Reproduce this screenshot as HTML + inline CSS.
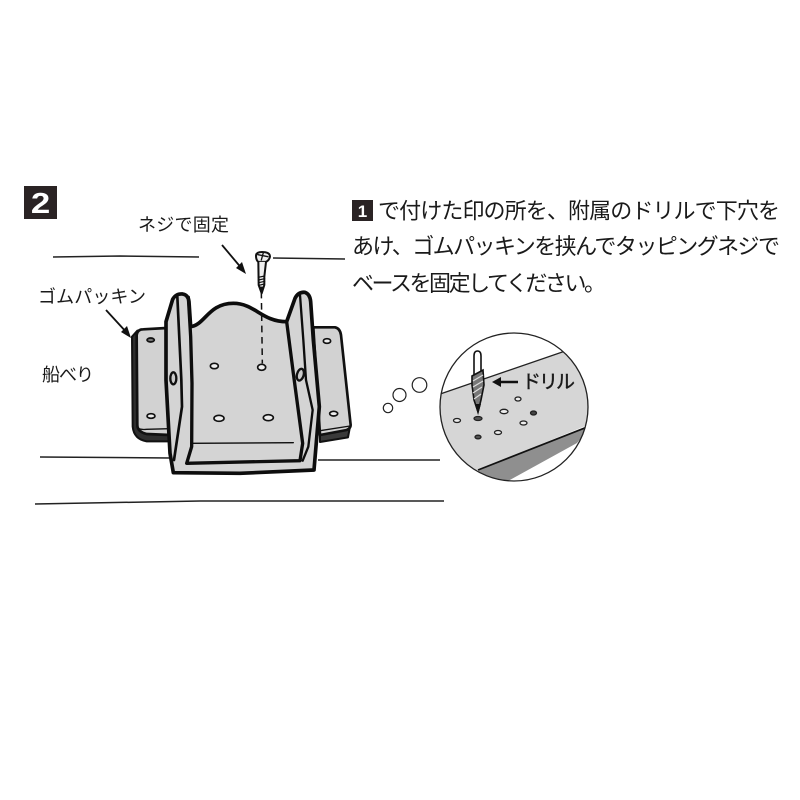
<!DOCTYPE html>
<html lang="ja"><head><meta charset="utf-8"><style>
html,body{margin:0;padding:0;background:#fff}
svg{display:block}
text{font-family:"Liberation Sans","Noto Sans CJK JP",sans-serif;fill:#1a1a1a}
</style></head><body>
<svg width="800" height="800" viewBox="0 0 800 800" xmlns="http://www.w3.org/2000/svg">
<rect width="800" height="800" fill="#fff"/>
<!-- number badge -->
<rect x="24" y="186" width="33" height="33" fill="#2a2324"/>
<text transform="translate(40.5 213) scale(1.2 1)" font-size="29" font-weight="bold" text-anchor="middle" style="fill:#fff">2</text>
<!-- labels -->
<text x="138" y="231" font-size="18" textLength="91" lengthAdjust="spacing">ネジで固定</text>
<text x="38" y="303" font-size="18" textLength="108" lengthAdjust="spacing">ゴムパッキン</text>
<text x="42" y="381" font-size="18" textLength="52" lengthAdjust="spacing">船べり</text>
<!-- right text -->
<rect x="352" y="200" width="21" height="21" fill="#2a2324"/>
<text x="362.5" y="217" font-size="17" font-weight="bold" text-anchor="middle" style="fill:#fff">1</text>
<text x="378" y="218.500" font-size="22" textLength="402" lengthAdjust="spacing">で付けた印の所を、附属のドリルで下穴を</text>
<text x="352" y="254" font-size="22" textLength="428" lengthAdjust="spacing">あけ、ゴムパッキンを挟んでタッピングネジで</text>
<text x="352" y="291" font-size="22" textLength="254" lengthAdjust="spacing">ベースを固定してください。</text>
<!-- boat lines -->
<g stroke="#222" fill="none" stroke-width="1.5">
<path d="M53 257 L120 256 L199 257"/>
<path d="M273 258 L345 259"/>
<path d="M40 457 L170 458"/>
<path d="M318 460 L440 460"/>
<path d="M35 504 L200 501 L444 501"/>
</g>
<!-- main drawing in zoom coordinates -->
<g transform="translate(120 240) scale(.33333)" stroke-linejoin="round" stroke-linecap="round">
<!-- shadow / gasket -->
<path d="M36 290 L52 272 L140 270 L150 604 L80 604 Q42 598 38 560 Z" fill="#2e2e2e" stroke="#111" stroke-width="6"/>
<path d="M600 572 L690 560 L684 592 L600 606 Z" fill="#3a3a3a" stroke="#111" stroke-width="6"/>
<!-- plates -->
<path d="M50 285 Q52 268 70 268 L140 264 L150 585 L80 582 Q52 575 52 555 Z" fill="#d2d2d2" stroke="#111" stroke-width="8"/>
<path d="M52 563 Q60 570 80 568 L148 566" fill="none" stroke="#111" stroke-width="4"/>
<path d="M580 262 L645 262 Q660 265 663 285 L692 555 Q692 565 680 570 L600 585 Z" fill="#d2d2d2" stroke="#111" stroke-width="8"/>
<path d="M600 572 L690 558" fill="none" stroke="#111" stroke-width="4"/>
<!-- silhouette -->
<path d="M138 245 L158 178 Q168 160 188 162 Q205 165 207 185 L212 260 C255 255 265 190 340 190 C405 190 425 245 500 245 L525 175 Q535 155 555 157 Q570 162 572 185 L580 300 L598 500 L582 690 L360 700 L160 698 L150 640 L138 420 Z" fill="#d4d4d4" stroke="#0d0d0d" stroke-width="11"/>
<!-- inner lines -->
<g fill="none" stroke="#0d0d0d">
<path d="M172 170 L184 420 L186 500 L162 660" stroke-width="8"/>
<path d="M205 172 L212 290 L216 430 L215 620 L200 670 L540 662 L548 610 L520 400 L500 245" stroke-width="10"/>
<path d="M540 165 L550 300 L558 420 L578 510 L565 620 L548 662" stroke-width="7"/>
<path d="M215 610 L520 608" stroke-width="4"/>
</g>
<!-- slots -->
<ellipse cx="160" cy="415" rx="9" ry="18" fill="#ccc" stroke="#111" stroke-width="7"/>
<ellipse cx="541" cy="404" rx="10" ry="18" fill="#ccc" stroke="#111" stroke-width="7" transform="rotate(15 541 404)"/>
<!-- holes -->
<g fill="#eee" stroke="#111" stroke-width="5">
<ellipse cx="92" cy="300" rx="11" ry="6" fill="#777"/>
<ellipse cx="93" cy="528" rx="12" ry="7"/>
<ellipse cx="621" cy="303" rx="11" ry="7"/>
<ellipse cx="641" cy="521" rx="12" ry="7"/>
<ellipse cx="283" cy="378" rx="12" ry="8"/>
<ellipse cx="425" cy="382" rx="12" ry="9"/>
<ellipse cx="297" cy="535" rx="15" ry="9"/>
<ellipse cx="445" cy="533" rx="15" ry="9"/>
</g>
<!-- dashed -->
<path d="M424 155 L427 370" stroke="#111" stroke-width="4.500" stroke-dasharray="20 14" fill="none" stroke-linecap="butt"/>
<!-- screw -->
<path d="M408 48 Q408 36 426 36 Q450 36 450 50 Q448 60 438 66 L433 110 L433 135 L425 160 L416 135 L415 66 Q408 60 408 48 Z" fill="#eee" stroke="#111" stroke-width="6"/>
<path d="M414 44 L444 50 M430 38 L424 60" stroke="#111" stroke-width="4" fill="none"/>
<path d="M414 64 L438 64" stroke="#111" stroke-width="3" fill="none"/>
<path d="M415 112 L434 108 M415 120 L434 116 M416 128 L434 124 M417 136 L433 132" stroke="#111" stroke-width="3.5" fill="none"/>
<path d="M418 140 L432 140 L425 162 Z" fill="#111"/>
</g>
<!-- arrows -->
<g stroke="#111" stroke-width="1.8" fill="none">
<path d="M222 245 L243 270"/>
<path d="M106 310 L128 334"/>
</g>
<path d="M246 274 L236 268 L242 262 Z M131 338 L121 332 L127 326 Z" fill="#111"/>
<!-- thought bubbles -->
<g fill="#fff" stroke="#222" stroke-width="1.2">
<circle cx="388" cy="408" r="4.7"/>
<circle cx="399.500" cy="395" r="6.500"/>
<circle cx="419.500" cy="385" r="7.300"/>
</g>
<!-- magnified circle -->
<defs><clipPath id="c"><circle cx="514" cy="407" r="74"/></clipPath></defs>
<g clip-path="url(#c)">
<path d="M430 397.500 L600 339 L600 420 L478 470 L430 490 Z" fill="#d6d6d6"/>
<path d="M478 470 L592 425 L577 443 L508 481 L488 485 Z" fill="#8f8f8f"/>
<path d="M430 397.500 L600 339" stroke="#222" stroke-width="1.300" fill="none"/>
<path d="M478 470 L600 422" stroke="#111" stroke-width="1.700" fill="none"/>
<g fill="#eee" stroke="#222" stroke-width="1.3">
<ellipse cx="457" cy="420.500" rx="3.500" ry="2"/>
<ellipse cx="478" cy="418.500" rx="4" ry="2" fill="#555"/>
<ellipse cx="478" cy="437" rx="3" ry="1.800" fill="#555"/>
<ellipse cx="498" cy="432.500" rx="3.500" ry="2"/>
<ellipse cx="504" cy="411.500" rx="4" ry="2.200"/>
<ellipse cx="518" cy="399" rx="3" ry="2"/>
<ellipse cx="523.500" cy="423" rx="3.500" ry="2"/>
<ellipse cx="533.500" cy="413" rx="3" ry="2" fill="#444"/>
</g>
</g>
<circle cx="514" cy="407" r="74" fill="none" stroke="#222" stroke-width="1.3"/>
<!-- drill -->
<path d="M474 356 Q474 351 477.500 351 Q481 351 481 356 L481 376 L474 376 Z" fill="#fff" stroke="#111" stroke-width="1.6"/>
<path d="M472 376 L483 370 L484 385 L481 400 L478 412 L474 400 L472 385 Z" fill="#777" stroke="#111" stroke-width="1.600"/>
<path d="M473 381 L483 375 M473 387 L483 381 M473 393 L482 387 M474 399 L481 394" stroke="#ddd" stroke-width="1.200" fill="none"/>
<path d="M475 404 L481 404 L478 415 Z" fill="#111"/>
<!-- drill arrow + label -->
<path d="M496 382 L518 382" stroke="#111" stroke-width="2.500"/>
<path d="M492 382 L501 377 L501 387 Z" fill="#111"/>
<text x="522" y="388" font-size="19" textLength="53" lengthAdjust="spacing" stroke="#1a1a1a" stroke-width=".4">ドリル</text>
</svg>
</body></html>
